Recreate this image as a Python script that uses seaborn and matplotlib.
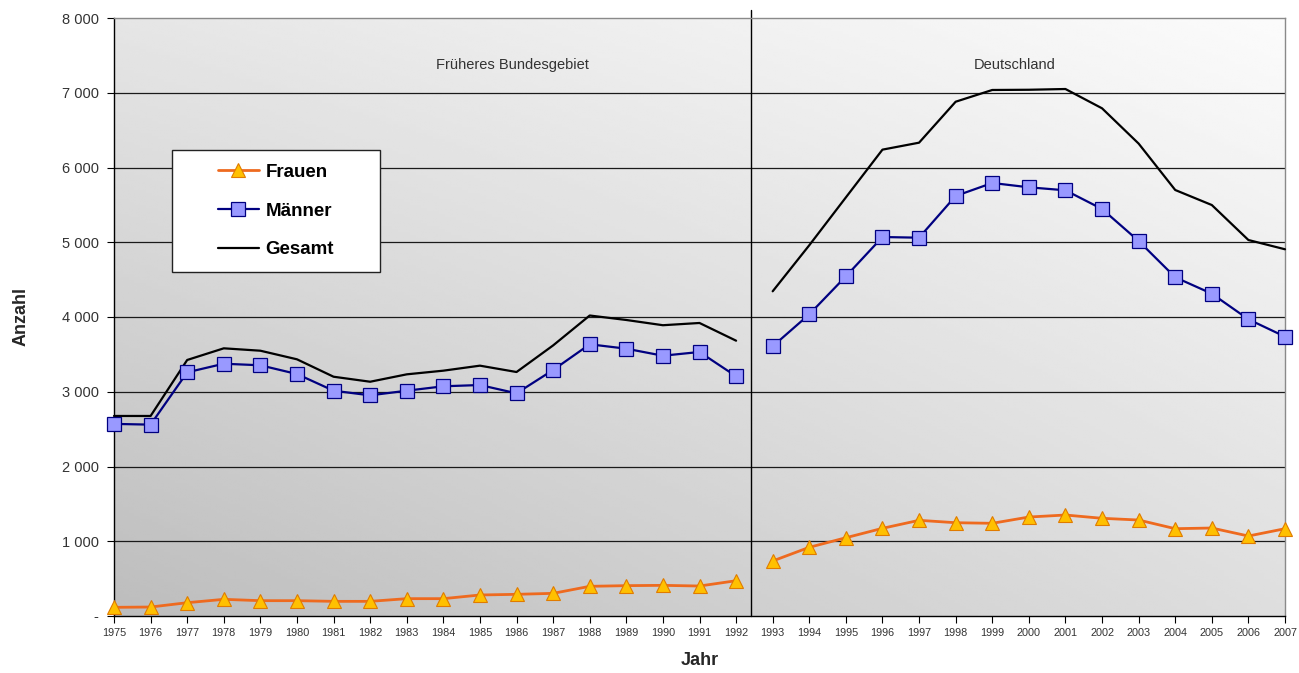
import numpy as np
import pandas as pd
import matplotlib
matplotlib.use("Agg")
import matplotlib.pyplot as plt
import seaborn as sns
from matplotlib.patches import Rectangle
from matplotlib.ticker import FuncFormatter


# Werte (1975-1992 früheres Bundesgebiet, 1993-2007 Deutschland)
years_west = list(range(1975, 1993))
years_ost = list(range(1993, 2008))

frauen_west = [116, 120, 178, 223, 205, 205, 196, 196, 232, 232, 281, 290, 303, 397, 406, 410, 401, 472]
maenner_west = [2570, 2560, 3260, 3375, 3354, 3237, 3014, 2952, 3014, 3073, 3090, 2979, 3291, 3635, 3576, 3482, 3532, 3207]
gesamt_west = [2676, 2676, 3425, 3581, 3549, 3434, 3201, 3134, 3233, 3282, 3349, 3264, 3620, 4020, 3960, 3890, 3920, 3683]

frauen_ost = [736, 919, 1047, 1173, 1280, 1248, 1240, 1324, 1351, 1307, 1284, 1168, 1177, 1070, 1168]
maenner_ost = [3608, 4036, 4544, 5070, 5061, 5619, 5793, 5735, 5695, 5445, 5017, 4531, 4312, 3969, 3737]
gesamt_ost = [4344, 4960, 5600, 6239, 6332, 6880, 7037, 7040, 7050, 6792, 6320, 5699, 5498, 5030, 4906]

y_ticks = [0, 1000, 2000, 3000, 4000, 5000, 6000, 7000, 8000]

sns.set_style("white")
plt.rcParams['font.family'] = ['Liberation Sans', 'DejaVu Sans']

fig = plt.figure(figsize=(12.99, 6.73), dpi=100)
ax = fig.add_axes([114 / 1299, 57 / 673, 1171 / 1299, 598 / 673])

# Hintergrund: diagonaler Grauverlauf
xs = np.linspace(0, 1, 200)
ys = np.linspace(0, 1, 200)
gx, gy = np.meshgrid(xs, ys)
tl, tr, bl, br = 0.90, 0.985, 0.74, 0.87
grad = (tl * (1 - gx) * (1 - gy) + tr * gx * (1 - gy)
        + bl * (1 - gx) * gy + br * gx * gy)
ax.imshow(grad, extent=[1975, 2007, 0, 8000], origin='upper', aspect='auto',
          cmap='gray', vmin=0, vmax=1, zorder=0, interpolation='bilinear')

for v in y_ticks[1:-1]:
    ax.axhline(v, color='#1a1a1a', lw=0.9, zorder=1)

ax.axvline(1992.4, ymin=0, ymax=1.014, color='black', lw=1.0, zorder=2, clip_on=False)

styles = {
    "Frauen": dict(color='#ee6a1f', marker='^', markersize=10.5, markerfacecolor='#ffc000',
                   markeredgecolor='#e07b00', markeredgewidth=0.8, linewidth=2.0),
    "Männer": dict(color='#000080', marker='s', markersize=9.5, markerfacecolor='#9999ff',
                   markeredgecolor='#000080', markeredgewidth=0.9, linewidth=1.6),
    "Gesamt": dict(color='black', linewidth=1.6),
}

series = {
    "Frauen": (frauen_west, frauen_ost),
    "Männer": (maenner_west, maenner_ost),
    "Gesamt": (gesamt_west, gesamt_ost),
}

order = ["Gesamt", "Männer", "Frauen"]
for name in order:
    west, ost = series[name]
    for yrs, vals, lab in [(years_west, west, name), (years_ost, ost, None)]:
        df = pd.DataFrame({"Jahr": yrs, "Anzahl": vals})
        sns.lineplot(data=df, x="Jahr", y="Anzahl", ax=ax, label=lab,
                     clip_on=False, zorder=3, **styles[name])

ax.set_xlim(1975, 2007)
ax.set_ylim(0, 8000)
ax.set_xticks(list(range(1975, 2008)))
ax.set_yticks(y_ticks)
ax.yaxis.set_major_formatter(FuncFormatter(
    lambda v, p: "-" if v == 0 else f"{int(v):,}".replace(",", " ")))
ax.tick_params(axis='x', labelsize=7.8, colors='black', labelcolor='#333333',
               length=5, width=0.8, direction='out', bottom=True, pad=4)
ax.tick_params(axis='y', labelsize=10.5, colors='black', labelcolor='#333333',
               length=5, width=0.8, direction='out', left=True, pad=6)

for side in ['left', 'bottom']:
    ax.spines[side].set_color('black')
    ax.spines[side].set_linewidth(1.0)
for side in ['top', 'right']:
    ax.spines[side].set_color('#8a8a8a')
    ax.spines[side].set_linewidth(1.0)

ax.set_xlabel("Jahr", fontsize=13, fontweight='bold')
ax.set_ylabel("Anzahl", fontsize=13, fontweight='bold')
ax.xaxis.set_label_coords(0.5, -0.06)
ax.yaxis.set_label_coords(-0.072, 0.5)

ax.text(1985.9, 7370, "Früheres Bundesgebiet", ha='center', va='center',
        fontsize=10.5, color='#333333', zorder=4)
ax.text(1999.6, 7370, "Deutschland", ha='center', va='center',
        fontsize=10.5, color='#333333', zorder=4)

# Legendenkasten
ax.add_patch(Rectangle((0.0495, 0.575), 0.1776, 0.204, transform=ax.transAxes,
                       facecolor='white', edgecolor='#222222', lw=1.0, zorder=4.5))
handles, labels = ax.get_legend_handles_labels()
hmap = dict(zip(labels, handles))
leg = ax.legend([hmap[k] for k in ["Frauen", "Männer", "Gesamt"]],
                ["Frauen", "Männer", "Gesamt"],
                loc='center', bbox_to_anchor=(0.1383, 0.6773), frameon=False,
                prop={'size': 13.5, 'weight': 'bold'},
                handlelength=2.2, handletextpad=0.35, labelspacing=1.15)
leg.set_zorder(5)
for t in leg.get_texts():
    t.set_color('black')

fig.savefig("out.png", dpi=100)
